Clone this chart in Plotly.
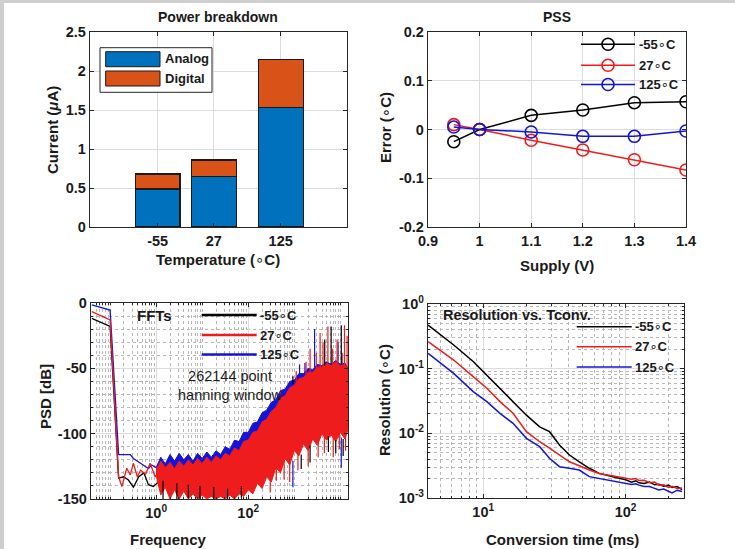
import plotly.graph_objects as go

W, H = 735, 549
FONT = "Liberation Sans, Arial, sans-serif"
TXT = "#1a1a1a"
DEG = "<span style=\"font-family:'DejaVu Sans';font-weight:normal\">∘</span>"


def X(px):
    return px / W


def Y(py):
    return 1 - py / H


# ---------------- DATA ----------------
# Power breakdown (uA)
temps = [-55, 27, 125]
temp_labels = ["-55", "27", "125"]
analog_uA = [0.487, 0.647, 1.535]
digital_uA = [0.193, 0.213, 0.61]

# PSS (error in degC vs supply)
supply_V = [0.95, 1.0, 1.1, 1.2, 1.3, 1.4]
pss_m55 = [-0.025, 0.0, 0.029, 0.040, 0.055, 0.057]
pss_27 = [0.010, 0.0, -0.022, -0.042, -0.062, -0.083]
pss_125 = [0.005, 0.0, -0.005, -0.014, -0.014, -0.003]

# FFT: first bins (low frequency) per temperature
fft_low_f_m55 = [0.04, 0.1, 0.153, 0.195, 0.25, 0.32, 0.42, 0.54, 0.68, 0.87, 1.12]
fft_low_db_m55 = [-11.7, -18, -134, -133, -135.5, -141, -133, -130, -139, -140.5, -137]
fft_low_f_27 = [0.04, 0.1, 0.153, 0.18, 0.23, 0.275, 0.32, 0.39, 0.46, 0.59, 0.74, 0.95, 1.23]
fft_low_db_27 = [-6.6, -13, -133, -140.5, -126.5, -131.6, -122.6, -133, -128, -131, -122.6, -133, -127]
fft_low_f_125 = [0.04, 0.1, 0.153, 0.275, 0.32, 0.42, 0.68, 0.8, 1.0]
fft_low_db_125 = [-1.5, -5.4, -116, -116, -119, -121.6, -126.6, -124, -126]

# FFT: noise band envelopes (upper / lower)
fft_band_f = [1, 1.26, 1.58, 2.0, 2.51, 3.16, 3.98, 5.01, 6.31, 7.94,
              10, 12.6, 15.8, 20, 25.1, 31.6, 39.8, 50.1, 63.1, 79.4,
              100, 126, 158, 200, 251, 316, 398, 501, 631, 794,
              1000, 1259, 1585, 1995, 2512, 3162, 3981, 5012, 6310, 7943,
              10000, 12589, 14650]
fft_27_hi = [-128, -121, -126, -122, -127, -121, -125, -120, -124, -119,
             -123, -118, -122, -117, -120, -115, -117, -111, -113, -106,
             -105, -99, -98, -91, -89, -83, -80, -73, -71, -65,
             -63, -58, -57, -53, -53, -49, -49, -46, -48, -45,
             -48, -47, -51]
fft_27_lo = [-132, -147, -141, -150, -143, -150, -144, -150, -146, -150,
             -147, -150, -148, -150, -148, -150, -147, -150, -146, -148,
             -143, -146, -138, -142, -133, -137, -126, -130, -119, -124,
             -113, -117, -108, -113, -104, -109, -100, -105, -101, -106,
             -99, -104, -97]
fft_125_hi = [-126, -118, -123, -116, -121, -115, -120, -116, -121, -115,
              -119, -114, -118, -113, -116, -110, -112, -105, -106, -99,
              -99, -92, -91, -84, -82, -76, -74, -67, -66, -60,
              -59, -54, -54, -50, -51, -47, -48, -45, -47, -44,
              -47, -46, -50]
fft_125_lo = [-130, -138, -134, -140, -136, -141, -137, -142, -138, -142,
              -139, -142, -140, -142, -140, -141, -139, -141, -138, -139,
              -135, -137, -131, -133, -126, -128, -120, -121, -113, -115,
              -108, -110, -103, -106, -99, -102, -96, -99, -97, -100,
              -95, -98, -93]

# FFT: isolated spikes (frequency, start level, tip level)
spk_f_m55 = [1.41, 2.82, 5.0, 8.9, 17.8, 35.5, 70.8, 933, 1413, 2200, 4571, 5500, 6310,
             7943, 10471, 11500]
spk_base_m55 = [-136, -138, -139, -140, -141, -142, -140, -62, -116, -109, -48, -102, -47,
                -105, -47, -104]
spk_tip_m55 = [-150, -150, -149, -150, -150, -150, -149, -56, -127, -122, -28, -114, -18,
               -115, -17, -117]
spk_f_27 = [300, 407, 500, 600, 794, 1100, 1200, 1800, 2000, 2200, 3000, 3300, 3631, 4200,
            4500, 5370, 6800, 7000, 8500, 9500, 11000, 12300, 13000, 14000]
spk_base_27 = [-133, -127, -76, -121, -122, -62, -113, -55, -110, -53, -50, -104, -49, -48,
               -101, -46, -47, -101, -46, -99, -47, -48, -100, -50]
spk_tip_27 = [-145, -136, -68, -135, -137, -52, -128, -45, -125, -35, -38, -118, -23, -30,
              -115, -18, -35, -118, -28, -112, -38, -17, -113, -25]
spk_f_125 = [933, 1300, 1700, 2754, 8913, 10471]
spk_base_125 = [-121, -56, -53, -49, -45, -103]
spk_tip_125 = [-141, -47, -46, -20, -30, -126]

# Resolution vs conversion time
conv_ms = [4.1, 6.2, 8.5, 10.6, 13.1, 16.2, 20.1, 24.9, 29.2, 34.3, 40.3, 47.3, 55.6, 65.2,
           75, 85.3, 100, 110, 118, 124, 135, 147, 160, 171, 185, 200, 212, 230, 249]
res_m55 = [0.473, 0.232, 0.129, 0.0794, 0.0501, 0.0309, 0.0191, 0.0126, 0.0106, 0.0066,
           0.00462, 0.00363, 0.00288, 0.0024, 0.00225, 0.00207, 0.00191, 0.00175, 0.00185,
           0.00172, 0.00168, 0.00176, 0.0016, 0.00163, 0.00152, 0.00158, 0.00146, 0.0015, 0.00135]
res_27 = [0.261, 0.136, 0.0752, 0.0497, 0.0309, 0.0204, 0.0106, 0.00741, 0.00589, 0.00462,
          0.00363, 0.00316, 0.00271, 0.0024, 0.00227, 0.00214, 0.00202, 0.00195, 0.002,
          0.00186, 0.00188, 0.00172, 0.00176, 0.00158, 0.0016, 0.00146, 0.00152, 0.0014, 0.00143]
res_125 = [0.1726, 0.0847, 0.0441, 0.0309, 0.0204, 0.0143, 0.00838, 0.00622, 0.00411, 0.00305,
           0.00288, 0.00271, 0.00214, 0.002, 0.00191, 0.00178, 0.0017, 0.00162, 0.00166,
           0.00158, 0.00151, 0.0015, 0.00141, 0.00133, 0.00138, 0.00129, 0.0012, 0.00132, 0.00126]

series_names = ["-55" + DEG + "C", "27" + DEG + "C", "125" + DEG + "C"]
C_BLACK, C_RED, C_BLUE = "#000000", "#ee1c1c", "#1414d8"
C_ANALOG, C_DIGITAL = "#0072BD", "#D95319"

# ---------------- FIGURE ----------------
fig = go.Figure()

# Power breakdown (stacked bars)
fig.add_trace(go.Bar(x=temps, y=analog_uA, width=65.6, name="Analog",
                     marker=dict(color=C_ANALOG, line=dict(color="#1a1a1a", width=1.2)),
                     xaxis="x", yaxis="y"))
fig.add_trace(go.Bar(x=temps, y=digital_uA, width=65.6, name="Digital",
                     marker=dict(color=C_DIGITAL, line=dict(color="#1a1a1a", width=1.2)),
                     xaxis="x", yaxis="y"))

# PSS
for ys, col in [(pss_m55, C_BLACK), (pss_27, C_RED), (pss_125, C_BLUE)]:
    fig.add_trace(go.Scatter(x=supply_V, y=ys, mode="lines+markers",
                             line=dict(color=col, width=1.5),
                             marker=dict(symbol="circle-open", size=12, color=col,
                                         line=dict(width=1.6, color=col)),
                             xaxis="x2", yaxis="y2"))


# FFT
def band(hi, lo, col):
    return go.Scatter(x=fft_band_f + fft_band_f[::-1], y=hi + lo[::-1], mode="lines",
                      fill="toself", fillcolor=col, line=dict(color=col, width=1),
                      xaxis="x3", yaxis="y3")


def spikes(fs, base, tip, col):
    xs, ys = [], []
    for f, b, t in zip(fs, base, tip):
        xs += [f, f, None]
        ys += [b, t, None]
    return go.Scatter(x=xs, y=ys, mode="lines", line=dict(color=col, width=1.2),
                      xaxis="x3", yaxis="y3")


fig.add_trace(go.Scatter(x=fft_low_f_m55, y=fft_low_db_m55, mode="lines",
                         line=dict(color=C_BLACK, width=1.3), xaxis="x3", yaxis="y3"))
fig.add_trace(go.Scatter(x=fft_low_f_125, y=fft_low_db_125, mode="lines",
                         line=dict(color=C_BLUE, width=1.3), xaxis="x3", yaxis="y3"))
fig.add_trace(band(fft_125_hi, fft_125_lo, C_BLUE))
fig.add_trace(go.Scatter(x=fft_low_f_27, y=fft_low_db_27, mode="lines",
                         line=dict(color=C_RED, width=1.3), xaxis="x3", yaxis="y3"))
fig.add_trace(band(fft_27_hi, fft_27_lo, C_RED))
fig.add_trace(spikes(spk_f_125, spk_base_125, spk_tip_125, C_BLUE))
fig.add_trace(spikes(spk_f_27, spk_base_27, spk_tip_27, C_RED))
fig.add_trace(spikes(spk_f_m55, spk_base_m55, spk_tip_m55, C_BLACK))

# Resolution
for ys, col in [(res_m55, C_BLACK), (res_27, C_RED), (res_125, C_BLUE)]:
    fig.add_trace(go.Scatter(x=conv_ms, y=ys, mode="lines", line=dict(color=col, width=1.5),
                             xaxis="x4", yaxis="y4"))

# ---------------- AXES ----------------
tickfont = dict(family=FONT, size=14.5, color=TXT, weight="bold")
GRID = "#dcdcdc"
MINOR = "#b8b8b8"


def ax(**kw):
    d = dict(showline=True, linecolor="#262626", linewidth=1.2, mirror="ticks",
             ticks="inside", ticklen=4, tickcolor="#262626", showgrid=True,
             gridcolor=GRID, gridwidth=1, zeroline=False, tickfont=tickfont,
             fixedrange=True, automargin=False)
    d.update(kw)
    return d


def dec_minor(lo, hi):
    return [m * 10 ** e for e in range(lo, hi) for m in range(1, 10)]


def minor_log(lo, hi):
    return dict(tickmode="array", tickvals=dec_minor(lo, hi), ticks="inside",
                ticklen=2, tickcolor="#262626", showgrid=True,
                gridcolor=MINOR, griddash="dot", gridwidth=1)


fig.update_layout(
    width=W, height=H, margin=dict(l=0, r=0, t=0, b=0, autoexpand=False),
    paper_bgcolor="white", plot_bgcolor="white", showlegend=False,
    barmode="stack", bargap=0,
    xaxis=ax(domain=[X(90), X(347)], anchor="y", range=[-154, 222],
             tickmode="array", tickvals=temps, ticktext=temp_labels),
    yaxis=ax(domain=[Y(227), Y(32)], anchor="x", range=[0, 2.5],
             tickmode="array", tickvals=[0, 0.5, 1, 1.5, 2, 2.5],
             ticktext=["0", "0.5", "1", "1.5", "2", "2.5"]),
    xaxis2=ax(domain=[X(428), X(686)], anchor="y2", range=[0.9, 1.4],
              tickmode="array", tickvals=[0.9, 1.0, 1.1, 1.2, 1.3, 1.4],
              ticktext=["0.9", "1", "1.1", "1.2", "1.3", "1.4"]),
    yaxis2=ax(domain=[Y(227), Y(32)], anchor="x2", range=[-0.2, 0.2],
              tickmode="array", tickvals=[-0.2, -0.1, 0, 0.1, 0.2],
              ticktext=["-0.2", "-0.1", "0", "0.1", "0.2"]),
    xaxis3=ax(domain=[X(91), X(348)], anchor="y3", type="log", range=[-1.415, 4.166],
              tickmode="array", tickvals=[1, 100],
              ticktext=["10<sup>0</sup>", "10<sup>2</sup>"], minor=minor_log(-2, 5)),
    yaxis3=ax(domain=[Y(499), Y(303)], anchor="x3", range=[-150, 0],
              tickmode="array", tickvals=[-150, -100, -50, 0],
              ticktext=["-150", "-100", "-50", "0"],
              minor=dict(dtick=10, ticks="inside", ticklen=2, tickcolor="#262626",
                         showgrid=True, gridcolor=MINOR, griddash="dot", gridwidth=1)),
    xaxis4=ax(domain=[X(428), X(684)], anchor="y4", type="log", range=[0.612, 2.41],
              tickmode="array", tickvals=[10, 100],
              ticktext=["10<sup>1</sup>", "10<sup>2</sup>"], minor=minor_log(0, 3)),
    yaxis4=ax(domain=[Y(498), Y(304)], anchor="x4", type="log", range=[-3, 0],
              tickmode="array", tickvals=[0.001, 0.01, 0.1, 1],
              ticktext=["10<sup>-3</sup>", "10<sup>-2</sup>", "10<sup>-1</sup>", "10<sup>0</sup>"],
              minor=minor_log(-3, 0)),
)


# ---------------- TEXT ----------------
def ann(text, px, py, size=15, bold=True, xanchor="center", angle=0):
    return dict(text=text, x=X(px), y=Y(py), xref="paper", yref="paper", showarrow=False,
                xanchor=xanchor, yanchor="middle", textangle=angle,
                font=dict(family=FONT, size=size, color=TXT,
                          weight="bold" if bold else "normal"))


anns = [
    ann("Power breakdown", 218.5, 17, 14),
    ann("Temperature (" + DEG + "C)", 218.5, 259.5),
    ann("Current (<i>μ</i>A)", 53, 130, angle=-90),
    ann("PSS", 557, 17, 14),
    ann("Supply (V)", 557, 265),
    ann("Error (" + DEG + "C)", 386, 128, angle=-90),
    ann("PSD [dB]", 45, 397, angle=-90),
    ann("Frequency", 168, 539),
    ann("Conversion time (ms)", 562, 539),
    ann("Resolution (" + DEG + "C)", 385, 400, angle=-90),
    ann("FFTs", 135, 315, 15, xanchor="left"),
    ann("262144 point<br>hanning window", 230, 385.5, 14.5, bold=False),
    ann("Resolution vs. Tconv.", 441, 315, 14.5, xanchor="left"),
    ann("Analog", 163, 59, 13, xanchor="left"),
    ann("Digital", 163, 78.5, 13, xanchor="left"),
]

shapes = [
    # grey frame of the screenshot
    dict(type="rect", xref="paper", yref="paper", x0=0, x1=X(4), y0=0, y1=1,
         fillcolor="#cfcfcf", line=dict(width=0)),
    dict(type="rect", xref="paper", yref="paper", x0=0, x1=1, y0=Y(3), y1=1,
         fillcolor="#cfcfcf", line=dict(width=0)),
    # Power legend
    dict(type="rect", xref="paper", yref="paper", x0=X(100), x1=X(212), y0=Y(92.3), y1=Y(47.7),
         fillcolor="white", line=dict(color="#262626", width=1)),
    dict(type="rect", xref="paper", yref="paper", x0=X(105.7), x1=X(160), y0=Y(66.7), y1=Y(51.7),
         fillcolor=C_ANALOG, line=dict(color="#1a1a1a", width=1)),
    dict(type="rect", xref="paper", yref="paper", x0=X(105.7), x1=X(160), y0=Y(86), y1=Y(71),
         fillcolor=C_DIGITAL, line=dict(color="#1a1a1a", width=1)),
]

legend_specs = [
    # (x0, x1, text_x, rows y, line width, markers)
    (581, 635, 637, [44.3, 65.3, 84.5], 1.5, True),
    (201.7, 256.7, 258, [315, 335, 354.5], 2.6, False),
    (576.7, 631.7, 633, [326.7, 346.7, 367], 1.6, False),
]
for x0, x1, tx, rows, lw, mk in legend_specs:
    for name, col, ry in zip(series_names, [C_BLACK, C_RED, C_BLUE], rows):
        shapes.append(dict(type="line", xref="paper", yref="paper", x0=X(x0), x1=X(x1),
                           y0=Y(ry), y1=Y(ry), line=dict(color=col, width=lw)))
        if mk:
            cx = (x0 + x1) / 2
            shapes.append(dict(type="circle", xref="paper", yref="paper",
                               xsizemode="pixel", ysizemode="pixel",
                               xanchor=X(cx), yanchor=Y(ry), x0=-6, x1=6, y0=-6, y1=6,
                               line=dict(color=col, width=1.6)))
        anns.append(ann(name, tx, ry, 13, xanchor="left"))

fig.update_layout(annotations=anns, shapes=shapes)

fig.write_html("out.html",
               config={"displayModeBar": False, "staticPlot": True},
               post_script="document.body.style.margin='0px';"
                           "document.body.style.overflow='hidden';")
